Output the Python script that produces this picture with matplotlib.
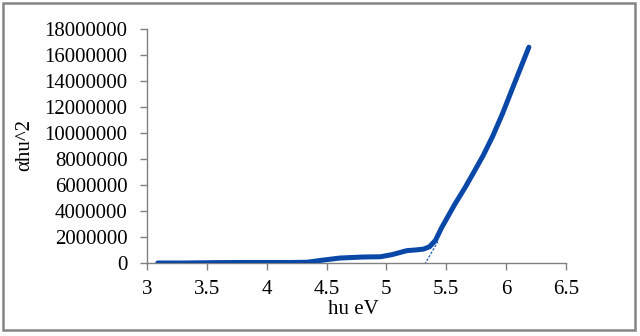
import matplotlib
matplotlib.use("Agg")
import matplotlib.pyplot as plt
from matplotlib.patches import Rectangle

# data
hv = [3.09, 3.3, 3.58, 3.8, 4.0, 4.2, 4.34, 4.45, 4.61, 4.8, 4.95, 5.05, 5.17, 5.24, 5.31,
      5.36, 5.41, 5.46, 5.57, 5.66, 5.74, 5.81, 5.89, 5.97, 6.06, 6.14, 6.19]
ahv2 = [0, 0, 30000, 40000, 40000, 40000, 60000, 200000, 380000, 460000, 480000, 650000,
        950000, 1000000, 1070000, 1250000, 1750000, 2700000, 4500000, 5850000, 7150000,
        8300000, 9800000, 11500000, 13600000, 15450000, 16600000]
tangent_x = [5.32, 5.43]
tangent_y = [-100000, 1650000]

xticks = [3, 3.5, 4, 4.5, 5, 5.5, 6, 6.5]
yticks = list(range(0, 18000001, 2000000))

plt.rcParams['font.family'] = ['Liberation Serif', 'DejaVu Serif']

fig = plt.figure(figsize=(6.4, 3.36), dpi=100)
ax = fig.add_axes([147/640, 1-263/336, (566-147)/640, (263-29)/336])

ax.plot(hv, ahv2, color='#0a48a8', lw=3.6, solid_capstyle='round', solid_joinstyle='round', zorder=3)
ax.plot(tangent_x, tangent_y, color='#1f5bb5', lw=0.9, ls=(0, (2, 1.2)), zorder=2)

ax.set_xlim(3, 6.5)
ax.set_ylim(0, 18000000)
ax.set_xticks(xticks)
ax.set_xticklabels([f"{t:g}" for t in xticks])
ax.set_yticks(yticks)
ax.set_yticklabels([str(t) for t in yticks])
ax.tick_params(axis='both', labelsize=15, length=5, width=1, direction='out')
ax.tick_params(axis='x', colors='#808080', labelcolor='black', pad=7)
ax.tick_params(axis='y', colors='#808080', labelcolor='black', pad=9)
for s in ['top', 'right']:
    ax.spines[s].set_visible(False)
for s in ['left', 'bottom']:
    ax.spines[s].set_color('#808080')
    ax.spines[s].set_linewidth(1)
ax.patch.set_alpha(0)

fig.text(353/640, 1-309/336, 'hu eV', ha='center', va='center', fontsize=15)
fig.text(25/640, 1-145/336, 'αhu^2', ha='center', va='center', rotation=90, fontsize=15)

fig.patches.append(Rectangle((3/640, 1-330/336), (635-3)/640, (330-3)/336, transform=fig.transFigure,
                             fill=False, edgecolor='#858585', lw=1.8))

fig.savefig('out.png', dpi=100)
